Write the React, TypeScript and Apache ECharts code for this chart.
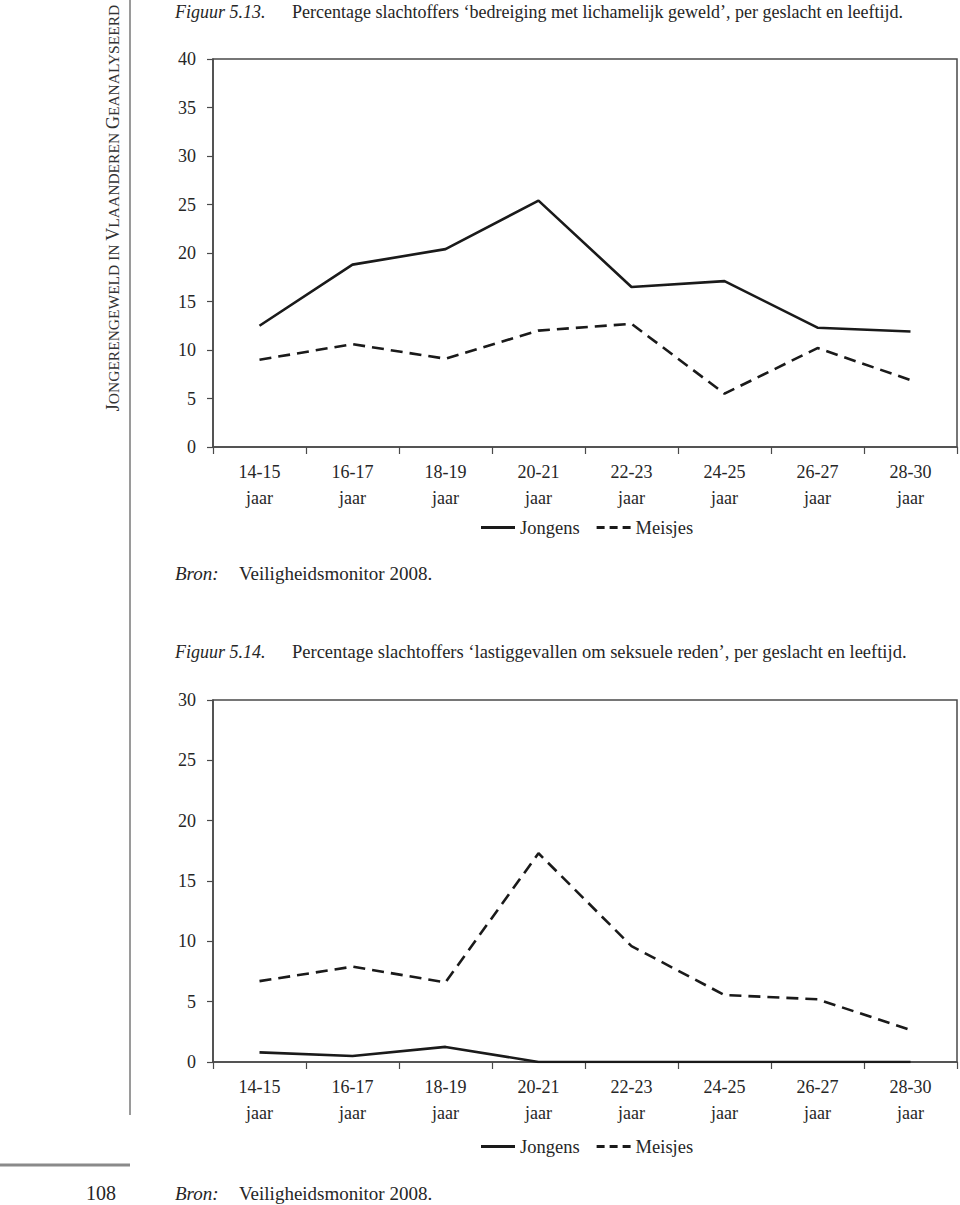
import React, { useEffect, useRef } from 'react';
import * as echarts from 'echarts';

const categories = ['14-15\njaar', '16-17\njaar', '18-19\njaar', '20-21\njaar', '22-23\njaar', '24-25\njaar', '26-27\njaar', '28-30\njaar'];
const seriesNames = ['Jongens', 'Meisjes'];

// Figuur 5.13 – bedreiging met lichamelijk geweld (%)
const threatJongens = [12.5, 18.8, 20.4, 25.4, 16.5, 17.1, 12.3, 11.9];
const threatMeisjes = [9.0, 10.6, 9.1, 12.0, 12.7, 5.5, 10.2, 6.9];
const threatYMax = 40;
const threatYInterval = 5;

// Figuur 5.14 – lastiggevallen om seksuele reden (%)
const sexualJongens = [0.8, 0.5, 1.25, 0, 0, 0, 0, 0];
const sexualMeisjes = [6.7, 7.9, 6.6, 17.3, 9.6, 5.55, 5.2, 2.65];
const sexualYMax = 30;
const sexualYInterval = 5;

const title1Label = 'Figuur 5.13.';
const title1Text = 'Percentage slachtoffers \u2018bedreiging met lichamelijk geweld\u2019, per geslacht en leeftijd.';
const title2Label = 'Figuur 5.14.';
const title2Text = 'Percentage slachtoffers \u2018lastiggevallen om seksuele reden\u2019, per geslacht en leeftijd.';
const sourceLabel = 'Bron:';
const sourceText = 'Veiligheidsmonitor 2008.';
const pageNumber = '108';

const FONT = "'Liberation Serif', 'DejaVu Serif', serif";
const TEXT = '#262626';
const AXIS = '#4a4a4a';
const LINE = '#1a1a1a';

const SOLID_ICON = 'path://M0,0 L34,0 L34,3 L0,3 Z';
const DASH_ICON = 'path://M0,0 L8,0 L8,3 L0,3 Z M13,0 L21,0 L21,3 L13,3 Z M26,0 L34,0 L34,3 L26,3 Z';

export default function App() {
  const ref = useRef<HTMLDivElement>(null);

  useEffect(() => {
    if (!ref.current) return;
    const chart = echarts.init(ref.current, null, { renderer: 'svg' });

    const grids = [
      { left: 213, top: 59, width: 744, height: 388 },
      { left: 213, top: 700, width: 744, height: 362 },
    ];

    const xAxis = [0, 1].map((i) => ({
      type: 'category',
      gridIndex: i,
      data: categories,
      boundaryGap: true,
      axisLine: { show: true, lineStyle: { color: AXIS, width: 1.5 } },
      axisTick: { show: true, length: 7, inside: false, lineStyle: { color: AXIS, width: 1.2 } },
      axisLabel: { fontFamily: FONT, fontSize: 18, color: TEXT, lineHeight: 26, margin: 12, interval: 0 },
      splitLine: { show: false },
    }));

    const yAxis = [
      { max: threatYMax, interval: threatYInterval },
      { max: sexualYMax, interval: sexualYInterval },
    ].map((c, i) => ({
      type: 'value',
      gridIndex: i,
      min: 0,
      max: c.max,
      interval: c.interval,
      axisLine: { show: true, lineStyle: { color: AXIS, width: 1.5 } },
      axisTick: { show: true, length: 6, inside: false, lineStyle: { color: AXIS, width: 1.2 } },
      axisLabel: { fontFamily: FONT, fontSize: 18, color: TEXT, margin: 17 },
      splitLine: { show: false },
    }));

    const mkSeries = (name: string, data: number[], idx: number, dashed: boolean) => ({
      type: 'line',
      name,
      data,
      xAxisIndex: idx,
      yAxisIndex: idx,
      symbol: 'none',
      lineStyle: { color: LINE, width: 2.6, type: dashed ? [12, 7] : 'solid' },
      itemStyle: { color: LINE },
      z: 3,
    });

    const legendCommon = (top: number) => ({
      left: 476,
      top,
      itemWidth: 34,
      itemHeight: 3,
      itemGap: 17,
      textStyle: { fontFamily: FONT, fontSize: 18.5, color: TEXT, padding: [0, 0, 0, 0] },
      itemStyle: { color: LINE },
      data: [
        { name: seriesNames[0], icon: SOLID_ICON },
        { name: seriesNames[1], icon: DASH_ICON },
      ],
      selectedMode: false,
    });

    const txt = (x: number, y: number, text: string, opts: any = {}) => ({
      type: 'text',
      x,
      y,
      style: {
        text,
        fontFamily: FONT,
        fontSize: 18,
        fill: TEXT,
        verticalAlign: 'middle',
        ...opts,
      },
    });

    chart.setOption({
      animation: false,
      backgroundColor: '#ffffff',
      grid: grids.map((g) => ({ ...g, show: true, borderColor: AXIS, borderWidth: 1.5, containLabel: false })),
      xAxis,
      yAxis,
      legend: [legendCommon(513), legendCommon(1132)],
      series: [
        mkSeries(seriesNames[0], threatJongens, 0, false),
        mkSeries(seriesNames[1], threatMeisjes, 0, true),
        mkSeries(seriesNames[0], sexualJongens, 1, false),
        mkSeries(seriesNames[1], sexualMeisjes, 1, true),
      ],
      graphic: [
        txt(175, 12, title1Label, { fontStyle: 'italic' }),
        txt(292, 12, title1Text),
        txt(175, 573, sourceLabel, { fontStyle: 'italic', fontSize: 19 }),
        txt(239, 573, sourceText, { fontSize: 19 }),
        txt(175, 652, title2Label, { fontStyle: 'italic' }),
        txt(292, 652, title2Text, { fontSize: 18.5 }),
        txt(175, 1193, sourceLabel, { fontStyle: 'italic', fontSize: 19 }),
        txt(239, 1193, sourceText, { fontSize: 19 }),
        txt(101, 1193, pageNumber, { fontSize: 20, align: 'center' }),
        {
          type: 'text',
          x: 113,
          y: 208,
          rotation: Math.PI / 2,
          style: {
            text: '{a|J}{b|ONGERENGEWELD IN }{a|V}{b|LAANDEREN }{a|G}{b|EANALYSEERD}',
            fontFamily: FONT,
            fill: '#333',
            align: 'center',
            verticalAlign: 'middle',
            rich: {
              a: { fontFamily: FONT, fontSize: 18, fill: '#333' },
              b: { fontFamily: FONT, fontSize: 15.5, fill: '#333' },
            },
          },
        },
        {
          type: 'line',
          shape: { x1: 130, y1: 0, x2: 130, y2: 1115 },
          style: { stroke: '#9a9a9a', lineWidth: 2 },
        },
        {
          type: 'line',
          shape: { x1: 0, y1: 1165, x2: 130, y2: 1165 },
          style: { stroke: '#8a8a8a', lineWidth: 3 },
        },
      ],
    });

    return () => chart.dispose();
  }, []);

  return (
    <div
      ref={ref}
      style={{ position: 'absolute', left: 0, top: 0, width: 960, height: 1205 }}
    />
  );
}
